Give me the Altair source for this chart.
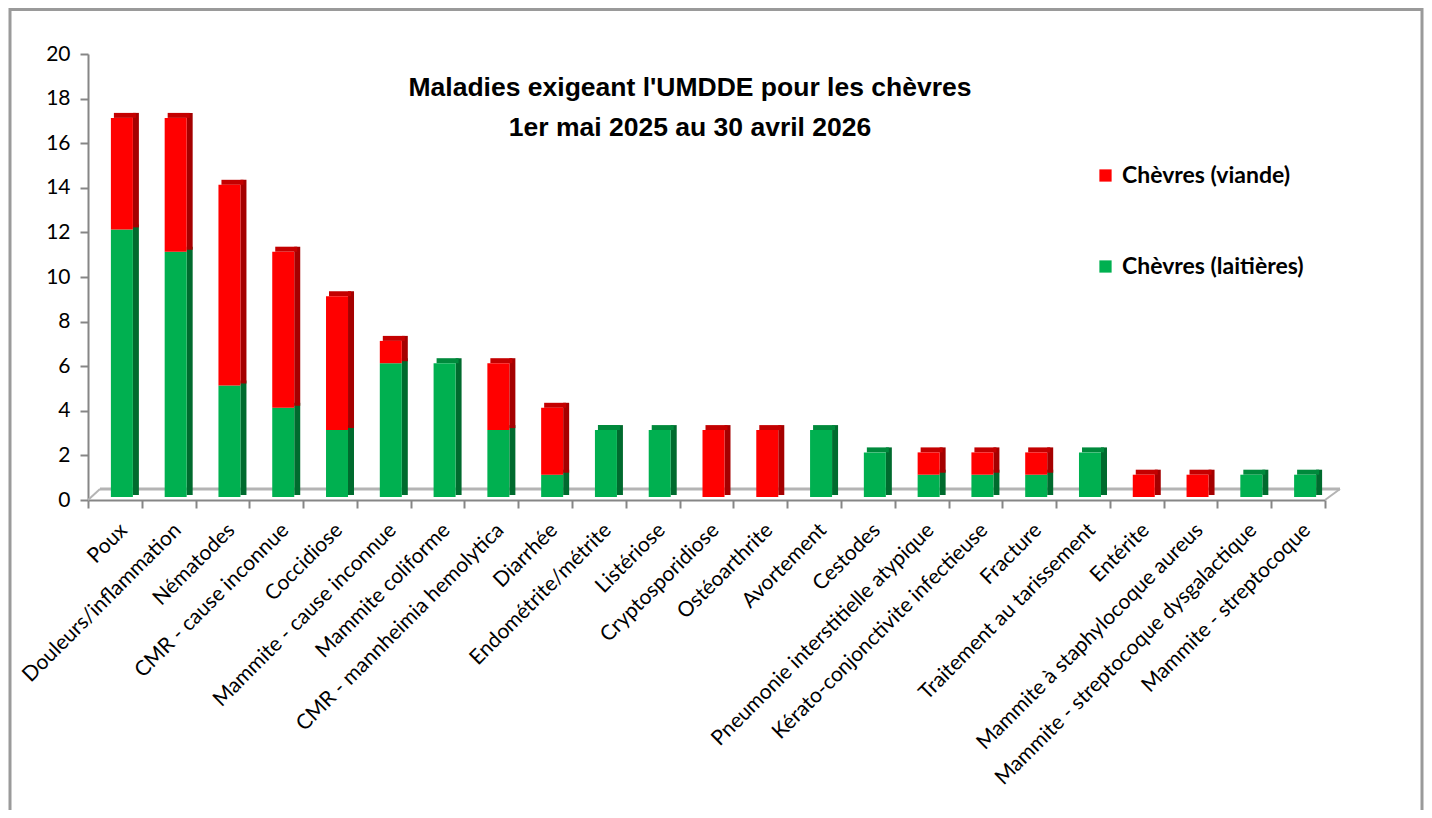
import altair as alt
import pandas as pd

categories = [
    "Poux", "Douleurs/inflammation", "Nématodes", "CMR - cause inconnue",
    "Coccidiose", "Mammite - cause inconnue", "Mammite coliforme",
    "CMR - mannheimia hemolytica", "Diarrhée", "Endométrite/métrite",
    "Listériose", "Cryptosporidiose", "Ostéoarthrite", "Avortement",
    "Cestodes", "Pneumonie interstitielle atypique",
    "Kérato-conjonctivite infectieuse", "Fracture",
    "Traitement au tarissement", "Entérite",
    "Mammite à staphylocoque aureus",
    "Mammite - streptocoque dysgalactique", "Mammite - streptocoque",
]
laitieres = [12, 11, 5, 4, 3, 6, 6, 3, 1, 3, 3, 0, 0, 3, 2, 1, 1, 1, 2, 0, 0, 1, 1]
viande = [5, 6, 9, 7, 6, 1, 0, 3, 3, 0, 0, 3, 3, 0, 0, 1, 1, 1, 0, 1, 1, 0, 0]

S_LAIT = "Chèvres (laitières)"
S_VIANDE = "Chèvres (viande)"

rows = []
tops = []
for c, g, r in zip(categories, laitieres, viande):
    if g > 0:
        rows.append({"cat": c, "serie": S_LAIT, "y0": 0, "y1": g})
    if r > 0:
        rows.append({"cat": c, "serie": S_VIANDE, "y0": g, "y1": g + r})
    tops.append({"cat": c, "serie": S_VIANDE if r > 0 else S_LAIT, "tot": g + r})
df = pd.DataFrame(rows)
dtop = pd.DataFrame(tops)

W, H = 1237, 446
xenc = alt.X("cat:N", sort=categories, title=None,
             scale=alt.Scale(paddingInner=0, paddingOuter=0))
yscale = alt.Scale(domain=[0, 20], nice=False)

front_col = alt.Color("serie:N", title=None,
                      scale=alt.Scale(domain=[S_VIANDE, S_LAIT], range=["#ff0000", "#00b050"]),
                      legend=alt.Legend(orient="none", legendX=1006, legendY=110,
                                        symbolType="square", symbolSize=150,
                                        symbolStrokeWidth=0, rowPadding=67,
                                        labelFont="Lato", labelFontSize=23,
                                        labelFontWeight="bold", labelColor="#000000",
                                        labelOffset=5, labelLimit=400))
side_col = alt.Color("serie:N", legend=None,
                     scale=alt.Scale(domain=[S_VIANDE, S_LAIT], range=["#a50000", "#006b2e"]))
top_col = alt.Color("serie:N", legend=None,
                    scale=alt.Scale(domain=[S_VIANDE, S_LAIT], range=["#c40000", "#008a3c"]))

base = alt.Chart(df)

side = base.mark_bar(width=6, xOffset=21, yOffset=-8, y2Offset=-5).encode(
    x=xenc, y=alt.Y("y1:Q", scale=yscale), y2="y0:Q", color=side_col)

top = alt.Chart(dtop).mark_bar(width=22, xOffset=10, yOffset=-8, y2Offset=-3).encode(
    x=xenc, y=alt.Y("tot:Q", scale=yscale), y2="tot:Q", color=top_col)

front = base.mark_bar(width=22, xOffset=7, yOffset=-3, y2Offset=-3).encode(
    x=alt.X("cat:N", sort=categories, title=None,
            scale=alt.Scale(paddingInner=0, paddingOuter=0),
            axis=alt.Axis(labelAngle=-45, labelAlign="right", labelBaseline="top",
                          labelFont="Lato", labelFontSize=21, labelColor="#000000",
                          labelPadding=11, labelOffset=1, labelLimit=600,
                          tickBand="extent", tickSize=8, tickColor="#868686",
                          tickWidth=2, domainColor="#868686", domainWidth=2)),
    y=alt.Y("y1:Q", scale=yscale, title=None,
            axis=alt.Axis(values=list(range(0, 21, 2)), grid=False,
                          labelFont="Lato", labelFontSize=21, labelColor="#000000",
                          labelPadding=10, tickSize=8, tickColor="#868686",
                          tickWidth=2, domainColor="#868686", domainWidth=2)),
    y2="y0:Q",
    color=front_col,
)

floor_df = pd.DataFrame({"k": [0]})
floor_back = alt.Chart(floor_df).mark_rule(color="#b4b4b4", strokeWidth=3).encode(
    x=alt.value(12), x2=alt.value(1252), y=alt.value(H - 11))
floor_l = alt.Chart(floor_df).mark_rule(color="#b4b4b4", strokeWidth=2).encode(
    x=alt.value(0), x2=alt.value(12), y=alt.value(H), y2=alt.value(H - 11))
floor_r = alt.Chart(floor_df).mark_rule(color="#b4b4b4", strokeWidth=2).encode(
    x=alt.value(W), x2=alt.value(1252), y=alt.value(H), y2=alt.value(H - 11))

frame_top = alt.Chart(floor_df).mark_rule(color="#9a9a9a", strokeWidth=3).encode(
    x=alt.value(-79), x2=alt.value(1335), y=alt.value(-44.5))
frame_left = alt.Chart(floor_df).mark_rule(color="#9a9a9a", strokeWidth=3).encode(
    x=alt.value(-78), y=alt.value(-46), y2=alt.value(1000))
frame_right = alt.Chart(floor_df).mark_rule(color="#9a9a9a", strokeWidth=3).encode(
    x=alt.value(1334), y=alt.value(-46), y2=alt.value(1000))

t1 = alt.Chart(floor_df).mark_text(font="Liberation Sans", fontWeight="bold",
                                   fontSize=26.5, color="#000000").encode(
    x=alt.value(602), y=alt.value(34), text=alt.value("Maladies exigeant l'UMDDE pour les chèvres"))
t2 = alt.Chart(floor_df).mark_text(font="Liberation Sans", fontWeight="bold",
                                   fontSize=26.5, color="#000000").encode(
    x=alt.value(602), y=alt.value(74), text=alt.value("1er mai 2025 au 30 avril 2026"))

chart = alt.layer(frame_top, frame_left, frame_right, floor_back, floor_l, floor_r,
                  side, top, front, t1, t2).resolve_scale(
    color="independent").properties(
    width=W, height=H,
    autosize=alt.AutoSizeParams(type="none"),
    padding={"left": 80, "top": 46, "right": 99, "bottom": 310},
).configure_view(stroke=None)

chart.save("out.html", embed_options={"renderer": "svg", "actions": False})
